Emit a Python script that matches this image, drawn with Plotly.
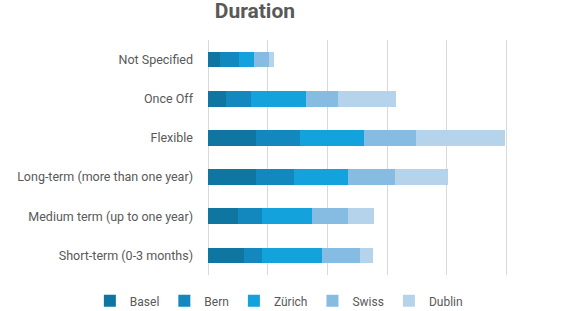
import plotly.graph_objects as go

categories = ["Not Specified", "Once Off", "Flexible",
              "Long-term (more than one year)", "Medium term (up to one year)",
              "Short-term (0-3 months)"]
series_names = ["Basel", "Bern", "Zürich", "Swiss", "Dublin"]
basel = [2.0, 3.0, 8.0, 8.0, 5.0, 6.0]
bern = [3.2, 4.2, 7.4, 6.4, 4.1, 3.1]
zurich = [2.5, 9.2, 10.8, 9.1, 8.4, 10.0]
swiss = [2.5, 5.4, 8.7, 7.8, 5.9, 6.4]
dublin = [0.8, 9.7, 14.9, 8.9, 4.4, 2.2]
colors = ["#0E76A0", "#1288BE", "#13A2DB", "#86BBE2", "#B6D3EC"]

fig = go.Figure()
for name, vals, c in zip(series_names, [basel, bern, zurich, swiss, dublin], colors):
    fig.add_trace(go.Bar(y=categories, x=vals, name=name, orientation="h",
                         marker=dict(color=c, line=dict(width=0))))

fig.update_layout(
    width=569, height=311, barmode="stack", bargap=0.6,
    paper_bgcolor="white", plot_bgcolor="white",
    margin=dict(l=208, r=3, t=40, b=36, autoexpand=False),
    font=dict(family="Roboto, sans-serif", color="#595959", size=12),
    title=dict(text="<b>Duration</b>", x=0.448, xanchor="center",
               y=0.965, yanchor="middle", yref="container",
               font=dict(size=21, color="#595959")),
    showlegend=True,
    legend=dict(orientation="h", xref="paper", yref="paper",
                x=-0.33, xanchor="left", y=-0.11, yanchor="middle",
                font=dict(size=12, color="#595959"), traceorder="normal",
                itemwidth=30, tracegroupgap=0),
    xaxis=dict(range=[0, 60], dtick=10, showticklabels=False, showgrid=True,
               gridcolor="#D9D9D9", gridwidth=1, zeroline=True,
               zerolinecolor="#D9D9D9", zerolinewidth=1, fixedrange=True),
    yaxis=dict(autorange="reversed", tickfont=dict(size=12.5, color="#595959"),
               ticks="", ticklen=0, showgrid=False, ticklabelstandoff=14,
               automargin=False),
)

fig.write_html("out.html")
